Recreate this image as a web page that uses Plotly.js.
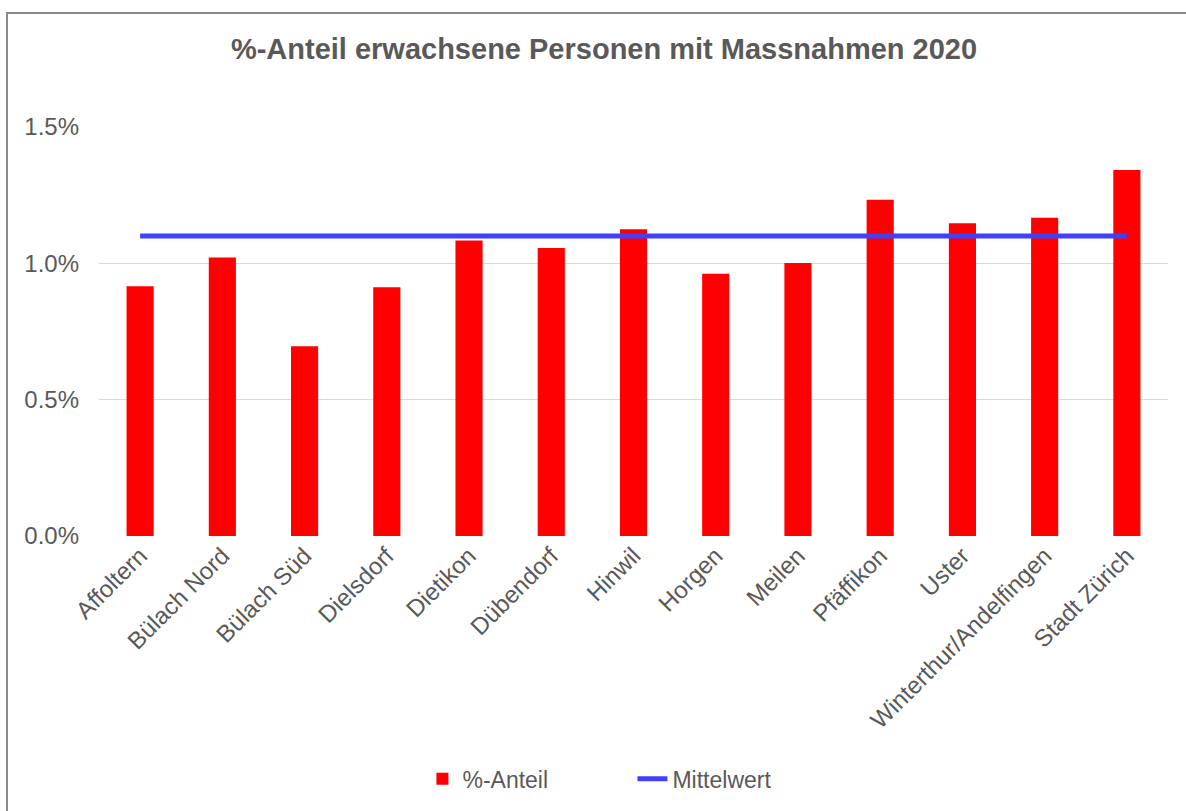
<!DOCTYPE html>
<html>
<head>
<meta charset="utf-8">
<script src="https://cdn.plot.ly/plotly-3.0.1.min.js"></script>
<style>
  html, body { margin: 0; padding: 0; background: #fff; }
  #wrap { position: relative; width: 1186px; height: 811px; overflow: hidden; }
  #chart { width: 1186px; height: 811px; }
  #frame { position: absolute; left: 6px; top: 12px; width: 1300px; height: 900px;
           border-left: 2px solid #8a8a8a; border-top: 2px solid #8a8a8a; pointer-events: none; }
</style>
</head>
<body>
<div id="wrap">
  <div id="chart"></div>
  <div id="frame"></div>
</div>
<script>
const categories = ["Affoltern", "Bülach Nord", "Bülach Süd", "Dielsdorf", "Dietikon", "Dübendorf",
  "Hinwil", "Horgen", "Meilen", "Pfäffikon", "Uster", "Winterthur/Andelfingen", "Stadt Zürich"];
const anteil = [0.00916, 0.01021, 0.00696, 0.00912, 0.01084, 0.01056, 0.01125, 0.00962, 0.01001,
  0.01233, 0.01147, 0.01167, 0.01342];
const mittelwert = [0.0110, 0.0110, 0.0110, 0.0110, 0.0110, 0.0110, 0.0110, 0.0110, 0.0110,
  0.0110, 0.0110, 0.0110, 0.0110];
const yTicks = [0, 0.005, 0.010, 0.015];

const font = "'Liberation Sans', Arial, sans-serif";
const textColor = "#595959";

const data = [
  {
    type: "bar", name: "%-Anteil", x: categories, y: anteil,
    marker: { color: "#ff0000" }
  },
  {
    type: "scatter", mode: "lines", name: "Mittelwert", x: categories, y: mittelwert,
    line: { color: "#4040ff", width: 5 }
  }
];

const layout = {
  width: 1186, height: 811,
  paper_bgcolor: "#ffffff", plot_bgcolor: "#ffffff",
  margin: { l: 99, r: 18, t: 127, b: 274 },
  bargap: 0.67,
  font: { family: font, color: textColor, size: 23 },
  title: {
    text: "<b>%-Anteil erwachsene Personen mit Massnahmen 2020</b>",
    font: { family: font, size: 29, color: textColor },
    x: 604 / 1186, xref: "container", xanchor: "center",
    y: 1 - 49 / 811, yref: "container", yanchor: "middle"
  },
  xaxis: {
    type: "category", tickangle: -45, showgrid: false, showline: false, ticks: "",
    automargin: false,
    tickfont: { family: font, size: 24, color: textColor }
  },
  yaxis: {
    range: [0, 0.015], tickvals: yTicks, tickformat: ".1%", showgrid: true,
    gridcolor: "#d9d9d9", gridwidth: 1.5, zeroline: false, showline: false, ticks: "",
    ticklabelstandoff: 19, automargin: false,
    tickfont: { family: font, size: 24, color: textColor }
  },
  showlegend: true,
  legend: {
    orientation: "h", x: 0.499, xanchor: "center", y: -0.59, yanchor: "middle",
    entrywidth: 165, entrywidthmode: "pixels",
    font: { family: font, size: 23, color: textColor }, traceorder: "normal"
  }
};

Plotly.newPlot("chart", data, layout, { displayModeBar: false, staticPlot: true });
</script>
</body>
</html>
